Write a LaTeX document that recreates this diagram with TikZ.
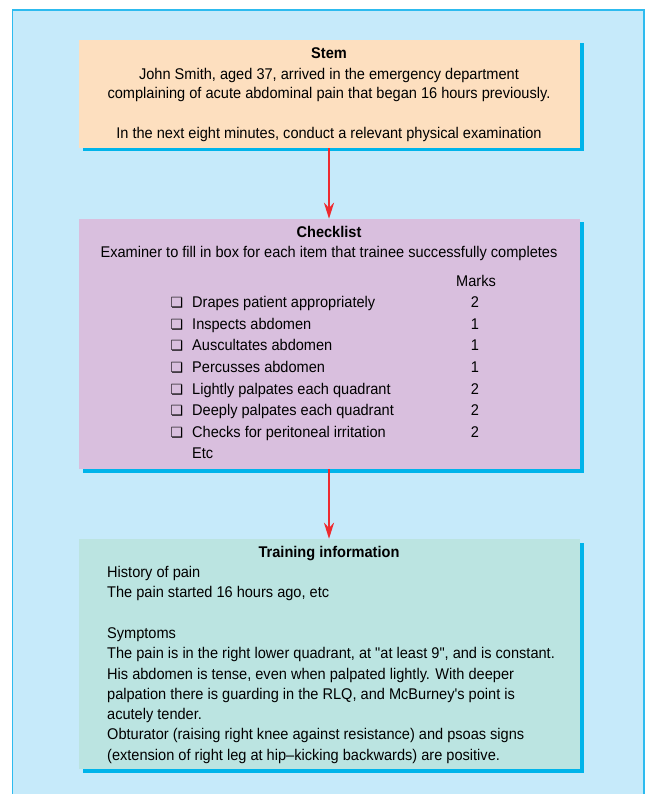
\documentclass[tikz,border=0pt]{standalone}
\usepackage{fontspec}
\usetikzlibrary{arrows.meta}
\newfontfamily\narrowsf[FakeStretch=0.94]{Liberation Sans}
\newfontfamily\symfnt{DejaVu Sans}
\definecolor{panelbg}{HTML}{C6EAFA}
\definecolor{panelln}{HTML}{2DBBEF}
\definecolor{shadowc}{HTML}{00B4EA}
\definecolor{stemfill}{HTML}{FDDFBF}
\definecolor{checkfill}{HTML}{D9BFDE}
\definecolor{trainfill}{HTML}{BBE4E1}
\definecolor{arrowred}{HTML}{EE2B2F}
\tikzset{
  box/.style={draw=none, minimum width=501pt, inner sep=0pt},
  txt/.style={font=\narrowsf\fontsize{15.5}{18}\selectfont, inner sep=0pt, text=black},
  hd/.style={txt, font=\narrowsf\bfseries\fontsize{15.5}{18}\selectfont},
  cb/.style={font=\symfnt\fontsize{14}{16}\selectfont, inner sep=0pt},
  arr/.style={draw=arrowred, line width=2.2pt, -{Stealth[length=16pt,width=10pt,inset=5pt]}},
}
\begin{document}
\begin{tikzpicture}[x=1pt,y=-1pt]
\useasboundingbox (0,0) rectangle (645,794);
\fill[white] (0,0) rectangle (645,794);
\fill[panelbg] (12,9.5) rectangle (645,794);
\draw[panelln, line width=1.6pt] (12.5,794) -- (12.5,10) -- (644,10) -- (644,794);
% shadows
\fill[shadowc] (82.5,43.5) rectangle (583.5,151.5);
\fill[shadowc] (82.5,222.5) rectangle (583.5,472.5);
\fill[shadowc] (82.5,542.5) rectangle (583.5,772.5);
% boxes
\node[box, fill=stemfill, minimum height=108pt] (stem) at (329.5,94) {};
\node[box, fill=checkfill, minimum height=250pt] (check) at (329.5,344) {};
\node[box, fill=trainfill, minimum height=230pt] (train) at (329.5,654) {};
% arrows
\draw[arr] (stem.south -| 329,0) -- (check.north -| 329,0);
\draw[arr] (check.south -| 329,0) -- (train.north -| 329,0);
% stem text
\node[hd, anchor=mid] (s0) at (329,56) {Stem};
\node[txt, anchor=mid] (s1) at (329,77) {John Smith, aged 37, arrived in the emergency department};
\node[txt, anchor=mid] (s2) at (329,96) {complaining of acute abdominal pain that began 16 hours previously.};
\node[txt, anchor=mid] (s3) at (329,136) {In the next eight minutes, conduct a relevant physical examination};
% checklist text
\node[hd, anchor=mid] (c0) at (329,235) {Checklist};
\node[txt, anchor=mid] (c1) at (329,255) {Examiner to fill in box for each item that trainee successfully completes};
\node[txt, anchor=mid] (mk) at (476,284) {Marks};
\foreach \y/\n/\t/\m in {305/1/Drapes patient appropriately/2,
                        327/2/Inspects abdomen/1,
                        348/3/Auscultates abdomen/1,
                        370/4/Percusses abdomen/1,
                        392/5/Lightly palpates each quadrant/2,
                        413/6/Deeply palpates each quadrant/2,
                        435/7/Checks for peritoneal irritation/2}{
  \node[cb, anchor=mid] (b\n) at (177,\y) {❏};
  \node[txt, anchor=mid west] (i\n) at (192,\y) {\t};
  \node[txt, anchor=mid] (m\n) at (475,\y) {\m};
}
\node[txt, anchor=mid west] (etc) at (192,456) {Etc};
% training text
\node[hd, anchor=mid] (t0) at (329,555) {Training information};
\node[txt, anchor=mid west] (t1) at (107,575) {History of pain};
\node[txt, anchor=mid west] (t2) at (107,595) {The pain started 16 hours ago, etc};
\node[txt, anchor=mid west] (t3) at (107,636) {Symptoms};
\node[txt, anchor=mid west] (t4) at (107,656) {The pain is in the right lower quadrant, at "at least 9", and is constant.};
\node[txt, anchor=mid west] (t5) at (107,677) {His abdomen is tense, even when palpated lightly. With deeper};
\node[txt, anchor=mid west] (t6) at (107,697) {palpation there is guarding in the RLQ, and McBurney's point is};
\node[txt, anchor=mid west] (t7) at (107,717) {acutely tender.};
\node[txt, anchor=mid west] (t8) at (107,737) {Obturator (raising right knee against resistance) and psoas signs};
\node[txt, anchor=mid west] (t9) at (107,758) {(extension of right leg at hip–kicking backwards) are positive.};
\end{tikzpicture}
\end{document}
